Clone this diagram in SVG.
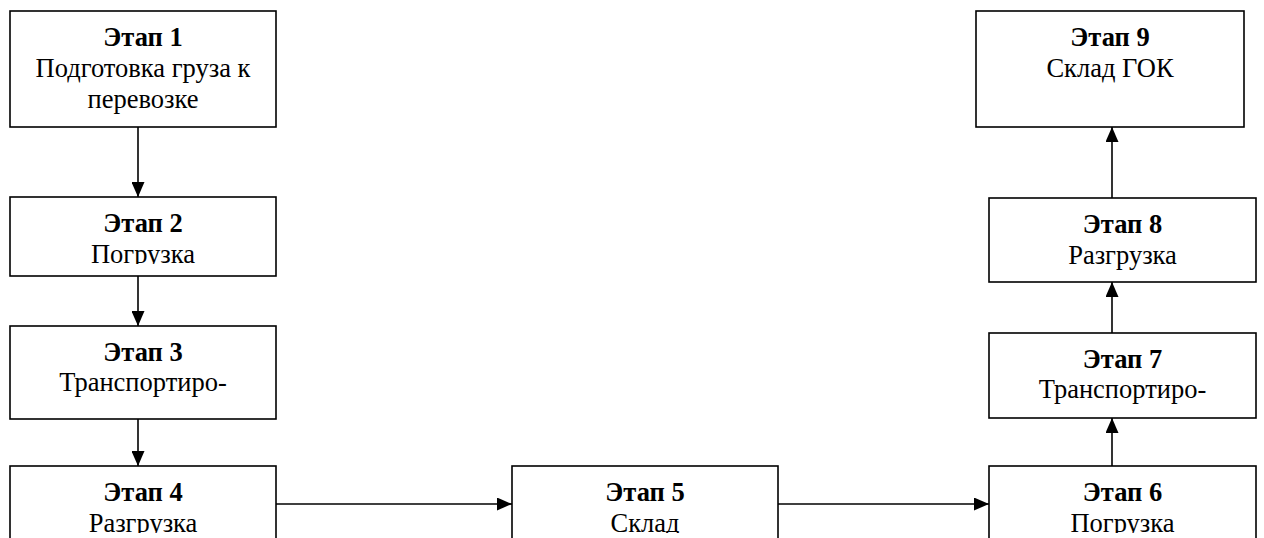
<svg xmlns="http://www.w3.org/2000/svg" width="1264" height="538" viewBox="0 0 1264 538">
<style>
.box{fill:#fff;stroke:#000;stroke-width:1.6}
.t{font-family:"Liberation Serif","Times New Roman",serif;font-size:26.5px;text-anchor:middle;fill:#000}
.b{font-weight:bold}
.c{stroke:#000;stroke-width:1.6;fill:none;marker-end:url(#ah)}
</style>
<defs>
<marker id="ah" markerUnits="userSpaceOnUse" markerWidth="15" markerHeight="13" refX="15" refY="6.5" orient="auto">
<path d="M0,0 L15,6.5 L0,13 z" fill="#000"/>
</marker>
<clipPath id="c1"><rect x="10" y="11" width="266" height="105"/></clipPath>
<clipPath id="c2"><rect x="10" y="197" width="266" height="67"/></clipPath>
<clipPath id="c3"><rect x="10" y="326" width="266" height="80"/></clipPath>
<clipPath id="c4"><rect x="10" y="466" width="266" height="67"/></clipPath>
<clipPath id="c5"><rect x="512" y="466" width="266" height="67"/></clipPath>
<clipPath id="c6"><rect x="989" y="466" width="267" height="67"/></clipPath>
<clipPath id="c7"><rect x="989" y="333" width="267" height="72"/></clipPath>
<clipPath id="c8"><rect x="989" y="198" width="267" height="73"/></clipPath>
<clipPath id="c9"><rect x="976" y="11" width="268" height="105"/></clipPath>
</defs>
<g id="connectors">
<line class="c" x1="138" y1="127" x2="138" y2="197"/>
<line class="c" x1="138" y1="276" x2="138" y2="326"/>
<line class="c" x1="138" y1="419" x2="138" y2="466"/>
<line class="c" x1="276" y1="504" x2="512" y2="504"/>
<line class="c" x1="778" y1="504" x2="989" y2="504"/>
<line class="c" x1="1112" y1="466" x2="1112" y2="418"/>
<line class="c" x1="1112" y1="333" x2="1112" y2="282"/>
<line class="c" x1="1112" y1="198" x2="1112" y2="127"/>
</g>
<g id="node1">
<rect class="box" x="10" y="11" width="266" height="116"/>
<g clip-path="url(#c1)">
<text class="t b" x="143" y="46">Этап 1</text>
<text class="t" x="143" y="77">Подготовка груза к</text>
<text class="t" x="143" y="108">перевозке</text>
</g>
</g>
<g id="node2">
<rect class="box" x="10" y="197" width="266" height="79"/>
<g clip-path="url(#c2)">
<text class="t b" x="143" y="232">Этап 2</text>
<text class="t" x="143" y="263">Погрузка</text>
</g>
</g>
<g id="node3">
<rect class="box" x="10" y="326" width="266" height="93"/>
<g clip-path="url(#c3)">
<text class="t b" x="143" y="361">Этап 3</text>
<text class="t" x="143" y="391">Транспортиро-</text>
</g>
</g>
<g id="node4">
<rect class="box" x="10" y="466" width="266" height="90"/>
<g clip-path="url(#c4)">
<text class="t b" x="143" y="501">Этап 4</text>
<text class="t" x="143" y="532">Разгрузка</text>
</g>
</g>
<g id="node5">
<rect class="box" x="512" y="466" width="266" height="90"/>
<g clip-path="url(#c5)">
<text class="t b" x="645" y="501">Этап 5</text>
<text class="t" x="645" y="532">Склад</text>
</g>
</g>
<g id="node6">
<rect class="box" x="989" y="466" width="267" height="90"/>
<g clip-path="url(#c6)">
<text class="t b" x="1122.5" y="501">Этап 6</text>
<text class="t" x="1122.5" y="532">Погрузка</text>
</g>
</g>
<g id="node7">
<rect class="box" x="989" y="333" width="267" height="85"/>
<g clip-path="url(#c7)">
<text class="t b" x="1122.5" y="368">Этап 7</text>
<text class="t" x="1122.5" y="398">Транспортиро-</text>
</g>
</g>
<g id="node8">
<rect class="box" x="989" y="198" width="267" height="84"/>
<g clip-path="url(#c8)">
<text class="t b" x="1122.5" y="233">Этап 8</text>
<text class="t" x="1122.5" y="264">Разгрузка</text>
</g>
</g>
<g id="node9">
<rect class="box" x="976" y="11" width="268" height="116"/>
<g clip-path="url(#c9)">
<text class="t b" x="1110" y="46">Этап 9</text>
<text class="t" x="1110" y="77">Склад ГОК</text>
</g>
</g>
</svg>
